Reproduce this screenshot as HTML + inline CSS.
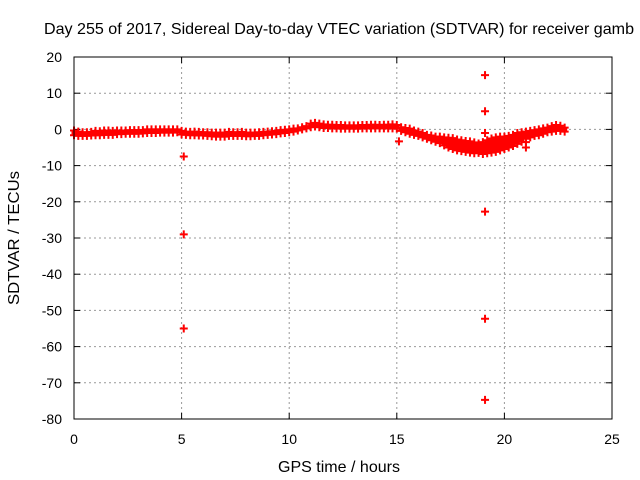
<!DOCTYPE html>
<html><head><meta charset="utf-8"><style>
body{margin:0;background:#fff}
svg{display:block;font-family:"Liberation Sans",sans-serif;font-size:14px}
</style></head><body>
<svg id="chart" width="640" height="480" viewBox="0 0 640 480" xmlns="http://www.w3.org/2000/svg">
<rect width="640" height="480" fill="#fff"/>
<text x="339" y="34" text-anchor="middle" fill="#000" font-size="16" textLength="590" lengthAdjust="spacingAndGlyphs">Day 255 of 2017, Sidereal Day-to-day VTEC variation (SDTVAR) for receiver gamb</text>
<g id="grid"></g>
<g id="ticks"></g>
<g id="marks"></g>
<rect x="74" y="57" width="538" height="362" fill="none" stroke="#000" stroke-width="1"/>
<text x="339" y="472" text-anchor="middle" fill="#000" font-size="16" textLength="122" lengthAdjust="spacingAndGlyphs">GPS time / hours</text>
<text transform="translate(19,238) rotate(-90)" text-anchor="middle" fill="#000" font-size="16" textLength="134" lengthAdjust="spacingAndGlyphs">SDTVAR / TECUs</text>
</svg>
<script>
const xTicks=[0,5,10,15,20,25];
const yTicks=[20,10,0,-10,-20,-30,-40,-50,-60,-70,-80];
const times=[];for(let i=0;i<=114;i++)times.push(i*0.2);
const upper=[-0.3,-0.6,-0.8,-0.8,-0.7,-0.4,-0.5,-0.3,-0.3,-0.4,-0.3,-0.3,-0.3,-0.2,-0.2,-0.2,-0.2,0,0,0,0,0,0,0,0,-0.4,-0.6,-0.7,-0.6,-0.7,-0.8,-0.8,-0.9,-0.9,-0.9,-0.9,-0.7,-0.8,-0.8,-0.7,-0.9,-0.9,-0.9,-0.8,-0.7,-0.6,-0.5,-0.4,-0.2,-0.1,0,0.2,0.3,0.6,0.9,1.6,1.8,1.6,1.4,1.3,1.3,1.2,1.2,1.1,1.1,1.1,1.1,1.2,1.2,1.3,1.3,1.2,1.3,1.3,1.4,1.2,0.6,0.4,0.2,-0.3,-0.6,-1,-1.5,-1.7,-2,-2,-2.2,-2.3,-2.4,-2.8,-3,-3.2,-3.3,-3.6,-3.9,-3.5,-3,-2.5,-2.2,-2,-2,-1.8,-1.5,-1,-0.8,-0.6,-0.4,-0.2,0,0.3,0.5,0.9,1.2,1.0,0.5];
const lower=[-1.6,-1.8,-1.8,-1.8,-1.7,-1.6,-1.6,-1.5,-1.5,-1.5,-1.3,-1.3,-1.2,-1.2,-1.2,-1.2,-1.1,-1,-1,-1,-0.9,-0.9,-0.9,-0.9,-0.8,-1.4,-1.5,-1.6,-1.6,-1.7,-1.7,-1.8,-1.9,-2,-2,-2,-1.8,-1.8,-1.8,-1.8,-1.9,-1.9,-1.8,-1.8,-1.6,-1.5,-1.4,-1.3,-1.1,-1,-0.8,-0.6,-0.3,0,0.3,0.6,0.8,0.6,0.4,0.4,0.3,0.3,0.2,0.2,0.2,0.2,0.2,0.3,0.3,0.3,0.3,0.3,0.3,0.3,0.3,0.2,-0.4,-0.8,-1.2,-1.5,-1.8,-2.2,-2.6,-3,-3.4,-3.8,-4.4,-5,-5.4,-5.8,-6,-6.2,-6.4,-6.6,-6.5,-6.8,-6.6,-6.4,-6.2,-5.8,-5.4,-5,-4.6,-4,-3.4,-2.6,-2.2,-1.8,-1.6,-1.2,-0.8,-0.6,-0.4,-0.4,-0.6];
const outlierTimes=[5.1,5.1,5.1,15.1,19.1,19.1,19.1,19.1,19.1,19.1,21.0,21.0];
const outlierValues=[-7.5,-29,-55,-3.3,15,5,-1,-22.7,-52.3,-74.7,-5,-3.5];
const X=t=>74+t*538/25;
const Y=v=>57+(20-v)*362/100;
const NS='http://www.w3.org/2000/svg';
function mk(tag,attrs,parent){const e=document.createElementNS(NS,tag);for(const k in attrs)e.setAttribute(k,attrs[k]);parent.appendChild(e);return e;}
const grid=document.getElementById('grid'),ticks=document.getElementById('ticks'),marks=document.getElementById('marks');
xTicks.forEach(t=>{
  if(t>0&&t<25){const g=mk('line',{x1:X(t),x2:X(t),y1:57,y2:419,stroke:'#999','stroke-dasharray':'2,3'},grid);
  
  }
  mk('line',{x1:X(t),x2:X(t),y1:419,y2:413,stroke:'#000'},ticks);
  mk('line',{x1:X(t),x2:X(t),y1:57,y2:63,stroke:'#000'},ticks);
  const l=mk('text',{x:X(t),y:444,'text-anchor':'middle',fill:'#000'},ticks);l.textContent=t;
  
  
});
yTicks.forEach(v=>{
  if(v<20&&v>-80){const g=mk('line',{x1:74,x2:612,y1:Y(v),y2:Y(v),stroke:'#999','stroke-dasharray':'2,3'},grid);
  
  }
  mk('line',{x1:74,x2:80,y1:Y(v),y2:Y(v),stroke:'#000'},ticks);
  mk('line',{x1:612,x2:606,y1:Y(v),y2:Y(v),stroke:'#000'},ticks);
  const l=mk('text',{x:62,y:Y(v)+5,'text-anchor':'end',fill:'#000'},ticks);l.textContent=v;
  
  
});
function plus(t,v,name){
  const x=X(t),y=Y(v);
  const p=mk('path',{d:`M${x-4},${y}H${x+4}M${x},${y-4}V${y+4}`,stroke:'#f00','stroke-width':2,fill:'none'},marks);
  
  
}
times.forEach((t,i)=>{
  const b=mk('line',{x1:X(t),x2:X(t),y1:Y(upper[i]),y2:Y(lower[i]),stroke:'#f00','stroke-width':5},marks);
  
  
  plus(t,upper[i],'sdtvar-point');
  plus(t,lower[i],'sdtvar-point');
});
outlierTimes.forEach((t,i)=>plus(t,outlierValues[i],'sdtvar-outlier'));
</script>
</body></html>
